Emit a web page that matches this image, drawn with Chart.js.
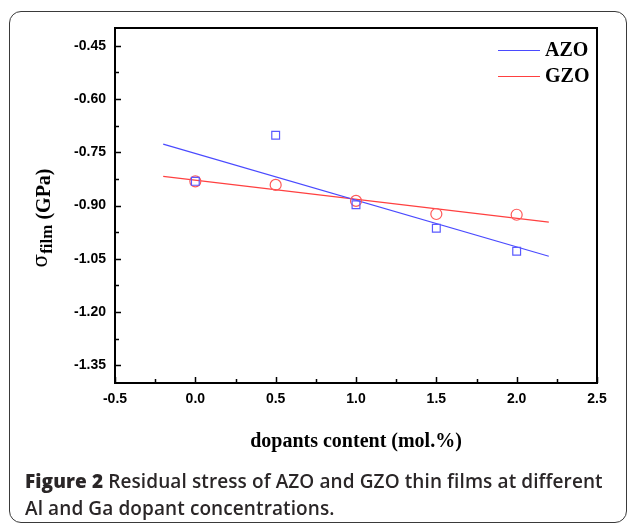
<!DOCTYPE html>
<html>
<head>
<meta charset="utf-8">
<script src="https://cdn.jsdelivr.net/npm/chart.js@4/dist/chart.umd.min.js"></script>
<style>
  body { margin: 0; background: #fff; width: 629px; height: 525px; overflow: hidden; position: relative; }
  #frame { position: absolute; left: 9px; top: 11px; width: 616px; height: 510px; border: 1.5px solid #3a3a3a; border-radius: 12px; }
  #chart { position: absolute; left: 0; top: 0; }
  #caption { position: absolute; left: 25px; top: 468px; margin: 0; font-family: "Open Sans", "Noto Sans", sans-serif; font-size: 19px; font-weight: 600; line-height: 27px; color: #2a2627; letter-spacing: 0.1px; white-space: nowrap; }
  #caption b { font-weight: 800; }
</style>
</head>
<body>
<div id="frame"></div>
<canvas id="chart" width="629" height="525"></canvas>
<p id="caption"><b>Figure 2</b> Residual stress of AZO and GZO thin films at different<br>Al and Ga dopant concentrations.</p>
<script>
// data
const dopant = [0, 0.5, 1.0, 1.5, 2.0];
const azoStress = [-0.832, -0.702, -0.898, -0.964, -1.029];
const gzoStress = [-0.832, -0.842, -0.887, -0.924, -0.926];
const fitX = [-0.2, 2.2];
const azoFit = [-0.727, -1.043];
const gzoFit = [-0.818, -0.947];
const seriesNames = ['AZO', 'GZO'];
const xTicks = [-0.5, 0.0, 0.5, 1.0, 1.5, 2.0, 2.5];
const yTicks = [-1.35, -1.20, -1.05, -0.90, -0.75, -0.60, -0.45];

const BLUE = '#4a4aff';
const RED = '#ff4040';

function toPts(xs, ys) {
	return xs.map((x, i) => ({ x: x, y: ys[i] }));
}

// frame, inward ticks, axis titles and legend
const decorPlugin = {
	id: 'decor',
	afterDraw(chart) {
		const ctx = chart.ctx;
		const a = chart.chartArea;
		const xs = chart.scales.x;
		const ys = chart.scales.y;
		ctx.save();
		ctx.strokeStyle = '#000';
		ctx.lineWidth = 1.5;
		// minor + major ticks
		ctx.beginPath();
		for (let v = -0.5; v <= 2.5001; v += 0.25) {
			const px = Math.round(xs.getPixelForValue(v)) + 0.5;
			const major = Math.abs(v * 2 - Math.round(v * 2)) < 1e-6;
			ctx.moveTo(px, a.bottom);
			ctx.lineTo(px, a.bottom - (major ? 6 : 4));
		}
		for (let v = -1.425; v <= -0.4; v += 0.075) {
			const py = Math.round(ys.getPixelForValue(v)) + 0.5;
			if (py < a.top || py > a.bottom) continue;
			const k = Math.round((v + 0.45) / 0.075);
			const major = k % 2 === 0;
			ctx.moveTo(a.left, py);
			ctx.lineTo(a.left + (major ? 6 : 4), py);
		}
		ctx.stroke();
		// box
		ctx.lineWidth = 2;
		ctx.strokeRect(a.left, a.top, a.right - a.left, a.bottom - a.top);

		// x title
		ctx.fillStyle = '#000';
		ctx.font = 'bold 20px "Liberation Serif"';
		ctx.textAlign = 'center';
		ctx.textBaseline = 'middle';
		ctx.fillText('dopants content (mol.%)', (a.left + a.right) / 2, 442);

		// y title: sigma_film (GPa)
		ctx.save();
		ctx.translate(50, 218);
		ctx.rotate(-Math.PI / 2);
		ctx.textAlign = 'left';
		ctx.textBaseline = 'alphabetic';
		const parts = [
			{ t: '\u03c3', f: '20px "DejaVu Serif"', dy: -3 },
			{ t: 'film', f: 'bold 17px "Liberation Serif"', dy: 2 },
			{ t: ' (GPa)', f: 'bold 20px "Liberation Serif"', dy: 0 }
		];
		let total = 0;
		parts.forEach(p => { ctx.font = p.f; p.w = ctx.measureText(p.t).width; total += p.w; });
		let cx = -total / 2;
		parts.forEach(p => { ctx.font = p.f; ctx.fillText(p.t, cx, p.dy); cx += p.w; });
		ctx.restore();

		// legend
		const colors = [BLUE, RED];
		ctx.font = 'bold 20px "Liberation Serif"';
		ctx.textAlign = 'left';
		ctx.textBaseline = 'middle';
		seriesNames.forEach((name, i) => {
			const y = 50 + i * 26;
			ctx.strokeStyle = colors[i];
			ctx.lineWidth = 1.2;
			ctx.beginPath();
			ctx.moveTo(498, y + 0.5);
			ctx.lineTo(540, y + 0.5);
			ctx.stroke();
			ctx.fillStyle = '#000';
			ctx.fillText(name, 545, y + 1);
		});
		ctx.restore();
	}
};

new Chart(document.getElementById('chart').getContext('2d'), {
	type: 'scatter',
	data: {
		datasets: [
			{
				label: seriesNames[0] + ' data',
				data: toPts(dopant, azoStress),
				pointStyle: 'rect',
				pointRadius: 5.5,
				pointBorderWidth: 1.2,
				borderColor: '#5a5aff',
				backgroundColor: 'rgba(0,0,0,0)'
			},
			{
				label: seriesNames[1] + ' data',
				data: toPts(dopant, gzoStress),
				pointStyle: 'circle',
				pointRadius: 5.5,
				pointBorderWidth: 1.2,
				borderColor: '#ff5a5a',
				backgroundColor: 'rgba(0,0,0,0)'
			},
			{
				label: seriesNames[0],
				data: toPts(fitX, azoFit),
				showLine: true,
				pointRadius: 0,
				borderColor: BLUE,
				borderWidth: 1.2
			},
			{
				label: seriesNames[1],
				data: toPts(fitX, gzoFit),
				showLine: true,
				pointRadius: 0,
				borderColor: RED,
				borderWidth: 1.2
			}
		]
	},
	options: {
		responsive: false,
		animation: false,
		layout: { padding: { top: 28, right: 32, left: 0, bottom: 0 } },
		scales: {
			x: {
				type: 'linear',
				min: -0.5,
				max: 2.5,
				afterBuildTicks: (s) => { s.ticks = xTicks.map(v => ({ value: v })); },
				afterFit: (s) => { s.height = 142; },
				ticks: {
					color: '#000',
					font: { family: '"Liberation Sans"', size: 14, weight: 'bold' },
					padding: 8,
					maxRotation: 0,
					callback: (v) => Number(v).toFixed(1)
				},
				grid: { display: false, drawTicks: false },
				border: { display: false }
			},
			y: {
				type: 'linear',
				min: -1.40,
				max: -0.40,
				afterBuildTicks: (s) => { s.ticks = yTicks.map(v => ({ value: v })); },
				afterFit: (s) => { s.width = 115; },
				ticks: {
					color: '#000',
					font: { family: '"Liberation Sans"', size: 14, weight: 'bold' },
					padding: 9,
					callback: (v) => Number(v).toFixed(2)
				},
				grid: { display: false, drawTicks: false },
				border: { display: false }
			}
		},
		plugins: {
			legend: { display: false },
			tooltip: { enabled: false }
		}
	},
	plugins: [decorPlugin]
});
</script>
</body>
</html>
